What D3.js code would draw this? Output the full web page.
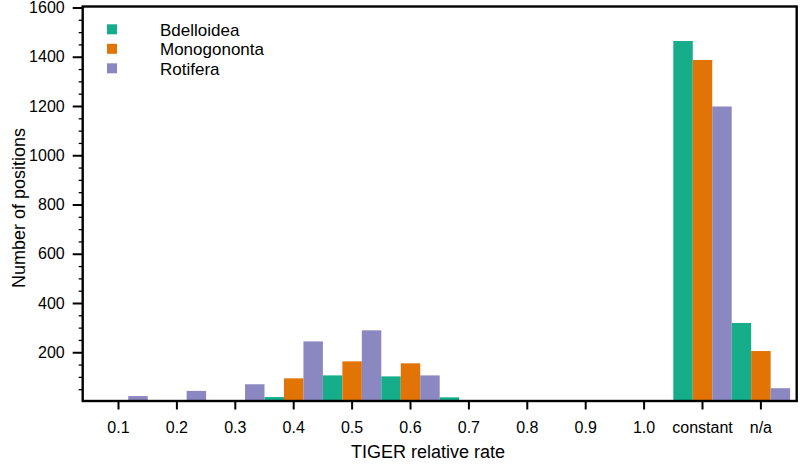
<!DOCTYPE html>
<html>
<head>
<meta charset="utf-8">
<script src="https://cdn.jsdelivr.net/npm/d3@7"></script>
<style>
  html, body { margin: 0; padding: 0; background: #fff; }
  svg { display: block; font-family: "Liberation Sans", Arial, Helvetica, sans-serif; }
</style>
</head>
<body>
<svg id="chart" width="800" height="464"></svg>
<script>
// ---- data ----
const categories = ["0.1","0.2","0.3","0.4","0.5","0.6","0.7","0.8","0.9","1.0","constant","n/a"];
const seriesNames = ["Bdelloidea","Monogononta","Rotifera"];
const bdelloidea  = [0, 0, 0, 18, 106, 102, 17, 0, 0, 0, 1464, 319];
const monogononta = [0, 0, 0, 94, 163, 155, 0, 0, 0, 5, 1387, 205];
const rotifera    = [22, 43, 70, 244, 289, 106, 0, 6, 0, 0, 1198, 54];
const yMajorTicks = [200, 400, 600, 800, 1000, 1200, 1400, 1600];
const yMinorTicks = d3.range(50, 1600, 50).filter(v => v % 200 !== 0);
const colors = ["#15ad8a", "#e27405", "#8b87c1"];

const seriesValues = [bdelloidea, monogononta, rotifera];

// ---- layout ----
const svg = d3.select("#chart");
const mLeft = 82.7, mRight = 796.7, mTop = 7.5, mBottom = 401.5;

const x = d3.scaleBand().domain(categories).range([mLeft, mRight]).paddingInner(0).paddingOuter(0.113);
const xs = d3.scaleBand().domain(seriesNames).range([0, x.bandwidth()]).padding(0);
const y = d3.scaleLinear().domain([0, 1600]).range([mBottom, mTop]);

// bars
const groups = svg.append("g").selectAll("g")
  .data(categories)
  .join("g")
  .attr("transform", d => `translate(${x(d)},0)`);

groups.selectAll("rect")
  .data((c, i) => seriesNames.map((s, k) => ({ s, k, v: seriesValues[k][i] })).filter(d => d.v > 0))
  .join("rect")
  .attr("x", d => xs(d.s))
  .attr("width", xs.bandwidth())
  .attr("y", d => y(d.v))
  .attr("height", d => y(0) - y(d.v))
  .attr("fill", d => colors[d.k]);

// y axis major
const yAxis = svg.append("g")
  .attr("transform", `translate(${mLeft},0)`)
  .call(d3.axisLeft(y).tickValues(yMajorTicks).tickSize(10).tickPadding(8).tickFormat(d3.format("d")));
yAxis.select(".domain").remove();
yAxis.selectAll("line").attr("stroke", "#000").attr("stroke-width", 2);
yAxis.selectAll("text").attr("font-size", 16).attr("fill", "#000")
  .attr("font-family", "'Liberation Sans', Arial, sans-serif");

// y axis minor
const yMinor = svg.append("g")
  .attr("transform", `translate(${mLeft},0)`)
  .call(d3.axisLeft(y).tickValues(yMinorTicks).tickSize(4).tickFormat(""));
yMinor.select(".domain").remove();
yMinor.selectAll("line").attr("stroke", "#000").attr("stroke-width", 1.3);

// x axis
const xAxis = svg.append("g")
  .attr("transform", `translate(0,${mBottom})`)
  .call(d3.axisBottom(x).tickSize(8).tickPadding(12));
xAxis.select(".domain").remove();
xAxis.selectAll("line").attr("stroke", "#000").attr("stroke-width", 2);
xAxis.selectAll("text").attr("font-size", 16).attr("fill", "#000")
  .attr("font-family", "'Liberation Sans', Arial, sans-serif");

// frame
svg.append("rect")
  .attr("x", mLeft).attr("y", mTop - 1)
  .attr("width", mRight - mLeft).attr("height", mBottom - mTop + 0.5)
  .attr("fill", "none").attr("stroke", "#000").attr("stroke-width", 2.4);

// axis titles
svg.append("text")
  .attr("x", 428).attr("y", 458)
  .attr("text-anchor", "middle")
  .attr("font-size", 18)
  .text("TIGER relative rate");

svg.append("text")
  .attr("transform", "translate(25,208) rotate(-90)")
  .attr("text-anchor", "middle")
  .attr("font-size", 18)
  .text("Number of positions");

// legend
const legend = svg.append("g").selectAll("g")
  .data(seriesNames)
  .join("g")
  .attr("transform", (d, i) => `translate(107,${24.3 + i * 19.5})`);
legend.append("rect")
  .attr("width", 10).attr("height", 10)
  .attr("fill", (d, i) => colors[i]);
legend.append("text")
  .attr("x", 53).attr("y", 11.5)
  .attr("font-size", 17)
  .text(d => d);
</script>
</body>
</html>
